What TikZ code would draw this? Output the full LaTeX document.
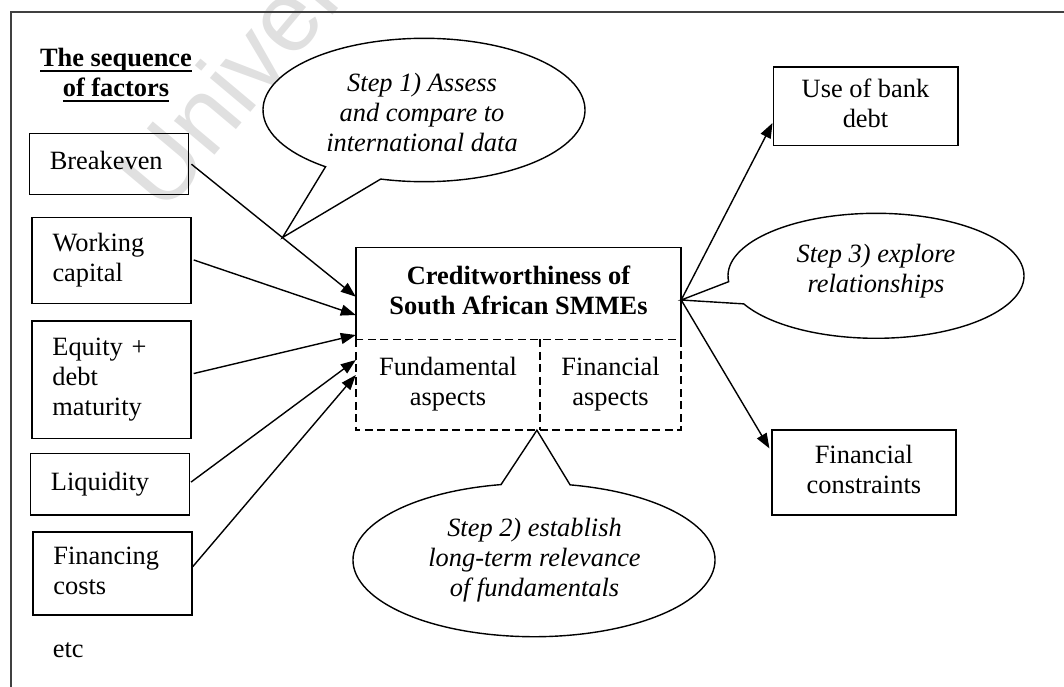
\documentclass[tikz,border=0pt]{standalone}
\usepackage{fontspec}
\setmainfont{Liberation Serif}
\newfontfamily\wmfont{Liberation Sans}
\usetikzlibrary{arrows.meta,calc}

\newcommand\bodyfont{\fontsize{26.4}{30}\selectfont}
% underline drawn at a fixed distance below the baseline
\newcommand\uline[1]{\setbox0\hbox{#1}\rlap{\rule[-5pt]{\wd0}{1.5pt}}\box0}

\tikzset{
  every node/.style={font=\bodyfont, inner sep=0pt},
  factor/.style={draw, line width=1.6pt, text width=118pt, inner xsep=20.5pt, align=left},
  outcome/.style={draw, line width=1.6pt, align=center},
  part/.style={align=center},
  calltext/.style={align=center, font=\bodyfont\itshape},
  callout/.style={line width=1.4pt, line join=miter},
  arr/.style={line width=1.4pt, -{Triangle[length=15pt,width=11pt]}},
  solidedge/.style={line width=1.6pt},
  dashedge/.style={line width=1.6pt, dash pattern=on 8pt off 4.5pt},
  frame/.style={line width=1.8pt, black!75}
}

\begin{document}
\begin{tikzpicture}[x=1pt, y=-1pt]
  \useasboundingbox (0,0) rectangle (1064,686);
  \clip (0,0) rectangle (1064,686);

  % watermark
  \node[rotate=50, anchor=base west, text=black!12,
        font=\wmfont\fontsize{100}{100}\selectfont] (wm) at (164,216) {University};

  % outer frame
  \draw[frame] (1070,12) -- (11,12) -- (11,692);

  % heading
  \node[align=center, font=\bodyfont\bfseries] (seq) at (116,75.7)
    {\strut\uline{The sequence}\\\strut\uline{of factors}};

  % factors
  \node[factor, minimum height=61pt]    (be)  at (108.8,163.8) {\strut Breakeven};
  \node[factor, minimum height=86pt]    (wc)  at (111.5,260.3) {\strut Working\\\strut capital};
  \node[factor, minimum height=117.6pt] (eq)  at (111.4,379.5) {\strut Equity +\\\strut debt\\\strut maturity};
  \node[factor, minimum height=61.7pt]  (lq)  at (109.9,484.2) {\strut Liquidity};
  \node[factor, minimum height=83.3pt]  (fc)  at (112.4,573.4) {\strut Financing\\\strut costs};
  \node[anchor=west] (etc) at (52.7,651.3) {\strut etc};

  % central box
  \node[part, font=\bodyfont\bfseries, minimum width=325pt, minimum height=92pt] (cw) at (518.5,293.5)
    {\strut Creditworthiness of\\\strut South African SMMEs};
  \node[part, minimum width=184pt, minimum height=90.5pt] (fa) at (448,384.75)
    {\strut Fundamental\\\strut aspects};
  \node[part, minimum width=141pt, minimum height=90.5pt] (fi) at (610.5,384.75)
    {\strut Financial\\\strut aspects};
  \draw[solidedge] (cw.south west) -- (cw.north west) -- (cw.north east) -- (cw.south east);
  \draw[dashedge] (fa.north west) rectangle (fi.south east);
  \draw[dashedge] (fa.north east) -- (fa.south east);

  % outcomes
  \node[outcome, minimum width=184.4pt, minimum height=78.6pt] (ub) at (865.5,106)
    {\strut Use of bank\\\strut debt};
  \node[outcome, minimum width=184.3pt, minimum height=85pt] (fcon) at (863.9,472.5)
    {\strut Financial\\\strut constraints};

  % factor arrows
  \coordinate (bs) at ([yshift=1.5pt]be.east);
  \coordinate (bt) at ([yshift=-3.2pt]cw.west);
  \draw[arr, shorten <=3pt] (bs) -- (bt);
  \draw[arr, shorten <=2pt] ([yshift=1pt]wc.east) -- ([yshift=-21.5pt]cw.west);
  \draw[arr, shorten <=2pt] ([yshift=5.5pt]eq.east) -- ([yshift=-41.5pt]cw.west);
  \draw[arr, shorten <=1pt] ([yshift=1.5pt]lq.east) -- ([yshift=24.75pt]fa.west);
  \draw[arr] ([yshift=6.7pt]fc.east) -- ([yshift=9.75pt]fa.west);

  % outcome arrows
  \coordinate (rout) at ([yshift=-6.5pt]cw.east);
  \draw[arr] (rout) -- ([yshift=-17pt]ub.west);
  \draw[arr, shorten >=3pt] (rout) -- ([yshift=21.5pt]fcon.west);

  % callout 1
  \coordinate (c1) at (424,110);
  \coordinate (s1tip) at ($(bs)!0.56!(bt)$);
  \draw[callout] (s1tip) -- ($(c1)+(127.7:161 and 71.7)$)
    arc[start angle=127.7, end angle=465.6, x radius=161, y radius=71.7] -- cycle;
  \node[calltext] (s1) at (422,115.7)
    {\strut Step 1) Assess\\\strut and compare to\\\strut international data};

  % callout 2
  \coordinate (c2) at (534,560);
  \coordinate (s2tip) at ([xshift=-3.3pt]fa.south east);
  \draw[callout] (s2tip) -- ($(c2)+(281.5:181 and 76.7)$)
    arc[start angle=281.5, end angle=619.5, x radius=181, y radius=76.7] -- cycle;
  \node[calltext] (s2) at (534.5,560.7)
    {\strut Step 2) establish\\\strut long-term relevance\\\strut of fundamentals};

  % callout 3
  \coordinate (c3) at (876,275.8);
  \draw[callout] (rout) -- ($(c3)+(174.6:148 and 62.5)$)
    arc[start angle=174.6, end angle=513.3, x radius=148, y radius=62.5] -- cycle;
  \node[calltext] (s3) at (876,271.7)
    {\strut Step 3) explore\\\strut relationships};
\end{tikzpicture}
\end{document}
